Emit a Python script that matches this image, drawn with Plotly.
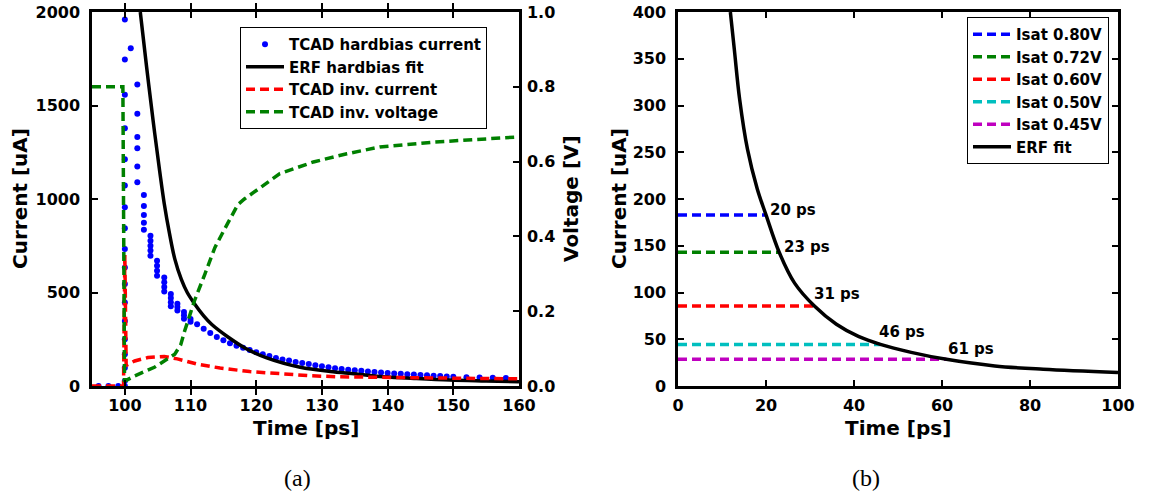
import plotly.graph_objects as go

W, H = 1150, 495

# ---------------- panel (a): hard-bias strike vs. inverter response ----------------
# TCAD hard-bias current samples (time in ps, current in uA)
hb_time = (
    [96.0, 97.5, 99.0]
    + [100.0] * 18
    + [100.9]
    + [101.9] * 6
    + [102.9] * 5
    + [103.9] * 5
    + [104.9] * 4
    + [106.0] * 4
    + [107.0] * 4
    + [108.0] * 3
    + [109.0] * 3
    + [110.0] * 2
    + [111, 112, 113, 114, 115, 116, 117, 118, 119, 120, 121, 122, 123, 124, 125,
       126, 127, 128, 129, 130, 131, 132, 133, 134, 135, 136, 137, 138, 139, 140,
       141, 142, 143, 144, 145, 146, 147, 148, 149, 150, 152, 154, 156, 158]
)
hb_current = (
    [0, 0, 0]
    + [0, 27, 98, 170, 250, 348, 446, 545, 634, 733, 843, 956, 1072, 1213, 1379, 1558, 1746, 1960]
    + [1806]
    + [1612, 1456, 1331, 1272, 1174, 1090]
    + [1022, 963, 915, 873, 835]
    + [804, 777, 750, 724, 697]
    + [670, 643, 616, 590]
    + [580, 555, 530, 505]
    + [492, 470, 448, 426]
    + [440, 422, 404]
    + [396, 378, 360]
    + [358, 344]
    + [330, 306, 283, 262, 245, 228, 215, 204, 192, 181, 170, 160, 150, 142, 136,
       129, 123, 117, 111, 106, 100, 95, 91, 87, 84, 81, 78, 75, 72, 70,
       67, 65, 63, 61, 59, 57, 55, 53, 51, 49, 47, 45, 44, 43]
)

# ERF fit of the hard-bias current
erf_a_time = [102.35, 103.3, 104.3, 105.3, 106.0, 106.8, 107.6, 108.6, 109.5, 110.6,
              112.0, 113.2, 115.7, 118.2, 121.6, 126.7, 131.7, 135.8, 139.3, 144.4,
              149.5, 155.0, 160.0]
erf_a_current = [2000, 1710, 1420, 1150, 975, 815, 680, 570, 500, 440,
                 375, 330, 262, 205, 150, 100, 76, 62, 50, 40,
                 32, 27, 23]

# inverter output current
inv_i_time = [95.0, 99.8, 100.0, 100.2, 101.5, 103.5, 106.0, 108.0, 111.0, 114.5,
              119.0, 123.6, 128.2, 132.7, 140.0, 150.0, 160.0]
inv_current = [0, 0, 700, 110, 134, 152, 158, 145, 117, 96,
               77, 64, 55, 49, 45, 41, 38]

# inverter output voltage (right axis)
inv_v_time = [95.0, 99.7, 99.95, 100.2, 101.5, 104.5, 107.6, 108.5, 109.1, 110.6,
              112.2, 113.7, 115.2, 116.5, 117.2, 118.2, 120.1, 123.6, 128.7, 133.8,
              138.8, 146.9, 160.0]
inv_voltage = [0.80, 0.80, 0.015, 0.015, 0.027, 0.05, 0.085, 0.11, 0.147, 0.228,
               0.30, 0.37, 0.42, 0.46, 0.485, 0.50, 0.523, 0.568, 0.599, 0.621,
               0.639, 0.652, 0.666]

# ---------------- panel (b): saturation currents and crossing delays ----------------
isat_names = ["Isat 0.80V", "Isat 0.72V", "Isat 0.60V", "Isat 0.50V", "Isat 0.45V"]
isat_current = [183, 143, 85.5, 44.5, 28.5]
isat_delay = [20, 23, 31, 46, 61]
delay_labels = ["20 ps", "23 ps", "31 ps", "46 ps", "61 ps"]

erf_b_time = [11.9, 12.8, 14.0, 15.8, 18.0, 20.0, 23.0, 26.5, 31.0, 36.0,
              41.0, 46.0, 53.0, 61.0, 72.0, 83.0, 100.0]
erf_b_current = [400, 360, 307, 253, 211, 183, 143, 110, 85.5, 66,
                 53, 44.5, 36, 28.5, 21.4, 17.9, 14.5]

# ---------------- styling ----------------
isat_colors = ["#0000ff", "#008000", "#ff0000", "#00bfbf", "#bf00bf"]
label_shift = [(2, 5), (3, 5), (-2, 12), (-3, 12), (0, 10)]   # px offsets of delay labels
DASH = "9px,5px"
LW = 3.5
SANS = "DejaVu Sans"
BOLD = dict(family=SANS, size=16, color="black", weight="bold")


def px_x(p):
    return p / W


def px_y(p):
    return 1 - p / H


fig = go.Figure()

fig.add_trace(go.Scatter(
    x=hb_time, y=hb_current, mode="markers", name="TCAD hardbias current",
    marker=dict(color="#0000ff", size=6), xaxis="x", yaxis="y", legend="legend"))
fig.add_trace(go.Scatter(
    x=erf_a_time, y=erf_a_current, mode="lines", name="ERF hardbias fit",
    line=dict(color="black", width=LW, shape="spline", smoothing=1.0),
    xaxis="x", yaxis="y", legend="legend"))
fig.add_trace(go.Scatter(
    x=inv_i_time, y=inv_current, mode="lines", name="TCAD inv. current",
    line=dict(color="#ff0000", width=LW, dash=DASH), xaxis="x", yaxis="y", legend="legend"))
fig.add_trace(go.Scatter(
    x=inv_v_time, y=inv_voltage, mode="lines", name="TCAD inv. voltage",
    line=dict(color="#008000", width=LW, dash=DASH), xaxis="x", yaxis="y2", legend="legend"))

for name, level, t, col in zip(isat_names, isat_current, isat_delay, isat_colors):
    fig.add_trace(go.Scatter(
        x=[0, t], y=[level, level], mode="lines", name=name,
        line=dict(color=col, width=LW, dash=DASH), xaxis="x2", yaxis="y3", legend="legend2"))
fig.add_trace(go.Scatter(
    x=erf_b_time, y=erf_b_current, mode="lines", name="ERF fit",
    line=dict(color="black", width=LW, shape="spline", smoothing=1.0),
    xaxis="x2", yaxis="y3", legend="legend2"))

annotations = []
for lab, level, t, (dx, dy) in zip(delay_labels, isat_current, isat_delay, label_shift):
    annotations.append(dict(
        x=t, y=level, xref="x2", yref="y3", text=lab, showarrow=False,
        xanchor="left", yanchor="middle", xshift=dx, yshift=dy,
        font=dict(family=SANS, size=15, color="black", weight="bold")))

title_font = dict(family=SANS, size=20, color="black", weight="bold")
caption_font = dict(family="Liberation Serif", size=24, color="black")
annotations += [
    dict(x=px_x(305.5), y=px_y(428), text="Time [ps]", font=title_font),
    dict(x=px_x(898), y=px_y(428), text="Time [ps]", font=title_font),
    dict(x=px_x(20), y=px_y(199), text="Current [uA]", textangle=-90, font=title_font),
    dict(x=px_x(571), y=px_y(199), text="Voltage [V]", textangle=-90, font=title_font),
    dict(x=px_x(619), y=px_y(199), text="Current [uA]", textangle=-90, font=title_font),
    dict(x=px_x(297), y=px_y(478), text="(a)", font=caption_font),
    dict(x=px_x(866), y=px_y(478), text="(b)", font=caption_font),
]
for a in annotations[len(delay_labels):]:
    a.update(xref="paper", yref="paper", showarrow=False, xanchor="center", yanchor="middle")

axis_common = dict(
    showgrid=False, zeroline=False, showline=True, linecolor="black", linewidth=2.5,
    ticks="inside", ticklen=6, tickwidth=1.5, tickcolor="black",
    tickfont=BOLD, automargin=False,
)

y_dom = [px_y(386), px_y(12)]
legend_font = dict(family=SANS, size=15, color="black", weight="bold")

fig.update_layout(
    width=W, height=H,
    margin=dict(l=0, r=0, t=0, b=0),
    paper_bgcolor="white", plot_bgcolor="white",
    xaxis=dict(axis_common, domain=[px_x(92), px_x(519)], range=[95, 160],
               tick0=100, dtick=10, mirror="allticks", anchor="y", ticklabelstandoff=3),
    yaxis=dict(axis_common, domain=y_dom, range=[0, 2000], dtick=500,
               anchor="x", ticklabelstandoff=6),
    yaxis2=dict(axis_common, overlaying="y", side="right", range=[0, 1], dtick=0.2,
                tickformat=".1f", anchor="x", ticklabelstandoff=2),
    xaxis2=dict(axis_common, domain=[px_x(678), px_x(1118)], range=[0, 100], dtick=20,
                mirror="allticks", anchor="y3", ticklabelstandoff=3),
    yaxis3=dict(axis_common, domain=y_dom, range=[0, 400], dtick=50,
                mirror="allticks", anchor="x2", ticklabelstandoff=6),
    legend=dict(x=px_x(240), y=px_y(27), xanchor="left", yanchor="top", itemwidth=38,
                bordercolor="black", borderwidth=1, bgcolor="white", font=legend_font),
    legend2=dict(x=px_x(967), y=px_y(17), xanchor="left", yanchor="top", itemwidth=38,
                 bordercolor="black", borderwidth=1, bgcolor="white", font=legend_font),
    annotations=annotations,
    showlegend=True,
)

fig.write_html("out.html")
